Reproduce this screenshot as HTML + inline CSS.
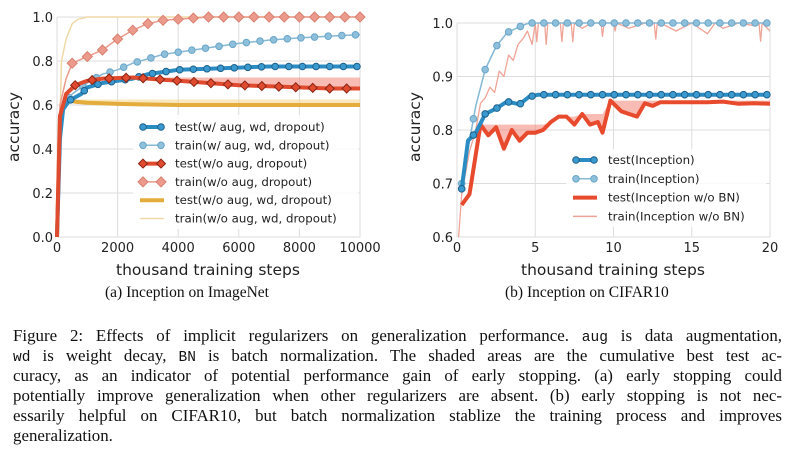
<!DOCTYPE html>
<html><head><meta charset="utf-8">
<style>
body{margin:0;background:#fff;}
#wrap{position:relative;width:792px;height:462px;overflow:hidden;background:#fff;}
svg text{font-family:"DejaVu Sans","Liberation Sans",sans-serif;fill:#222;}
.cap{position:absolute;font-family:"Liberation Serif",serif;color:#111;white-space:nowrap;}
.ln{position:absolute;left:13px;width:769px;font-family:"Liberation Serif",serif;font-size:16.9px;color:#111;text-align:justify;text-align-last:justify;white-space:nowrap;line-height:20px;}
.ln.last{text-align-last:left;}
.mono{font-family:"Liberation Mono",monospace;font-size:14.5px;}
</style></head><body>
<div id="wrap">
<svg id="svg" width="792" height="462"></svg>
<div class="cap" style="left:105px;top:284px;font-size:15.5px;">(a) Inception on ImageNet</div>
<div class="cap" style="left:505px;top:284px;font-size:15.5px;">(b) Inception on CIFAR10</div>
<div>
<div class="ln" style="top:326px;">Figure 2: Effects of implicit regularizers on generalization performance. <span class="mono">aug</span> is data augmentation,</div>
<div class="ln" style="top:346px;"><span class="mono">wd</span> is weight decay, <span class="mono">BN</span> is batch normalization. The shaded areas are the cumulative best test ac-</div>
<div class="ln" style="top:366px;">curacy, as an indicator of potential performance gain of early stopping. (a) early stopping could</div>
<div class="ln" style="top:386px;">potentially improve generalization when other regularizers are absent. (b) early stopping is not nec-</div>
<div class="ln" style="top:406px;">essarily helpful on CIFAR10, but batch normalization stablize the training process and improves</div>
<div class="ln last" style="top:426px;">generalization.</div>
</div>
</div>
<script>
// ---- Left chart data (x in steps) ----
const aTestAugX=[0,100,200,400,800,1000,1500,2000,2500,3000,3500,4000,5000,6000,7000,8000,9000,10000];
const aTestAugY=[0,0.45,0.58,0.62,0.65,0.68,0.70,0.71,0.72,0.74,0.75,0.76,0.765,0.77,0.775,0.775,0.775,0.775];
const aTrainAugX=[0,100,200,500,1000,1500,2000,2500,3000,3500,4000,5000,6000,7000,8000,9000,10000];
const aTrainAugY=[0,0.5,0.6,0.65,0.70,0.74,0.76,0.79,0.81,0.83,0.84,0.86,0.88,0.895,0.905,0.913,0.92];
const aTestNoAugX=[0,100,300,600,1000,1500,2500,3000,3500,4000,5000,6000,7000,8000,9000,10000];
const aTestNoAugY=[0,0.55,0.65,0.69,0.71,0.72,0.725,0.72,0.715,0.71,0.70,0.69,0.685,0.68,0.675,0.675];
const aTrainNoAugX=[0,100,300,500,1000,1500,2000,2500,3000,3500,4000,5000,10000];
const aTrainNoAugY=[0,0.6,0.72,0.79,0.82,0.85,0.90,0.94,0.97,0.985,0.99,1.0,1.0];
const aTestNoRegX=[0,100,300,600,1000,2000,4000,10000];
const aTestNoRegY=[0,0.55,0.625,0.615,0.61,0.605,0.60,0.60];
const aTrainNoRegX=[0,150,300,500,700,1000,10000];
const aTrainNoRegY=[0,0.8,0.9,0.97,0.99,1.0,1.0];
const aXTicks=[0,2000,4000,6000,8000,10000];
const aYTicks=[0,0.2,0.4,0.6,0.8,1.0];
// ---- Right chart data (x in thousand steps) ----
const bTestIncX=[0.3,0.7,1.2,1.8,2.5,3.2,4,4.6,5.2,6,20];
const bTestIncY=[0.69,0.78,0.795,0.83,0.84,0.853,0.848,0.862,0.866,0.866,0.866];
const bTrainIncX=[0.3,1.2,1.8,2.5,3.2,4,4.6,20];
const bTrainIncY=[0.70,0.845,0.913,0.956,0.982,0.993,1.0,1.0];
const bTestNoBNX=[0.3,0.8,1.5,2,2.5,3,3.5,4,4.5,5,5.5,6,6.5,7,7.5,8,8.5,9,9.3,9.8,10.5,11,11.5,12,12.5,13,14,15,16,17,18,19,20];
const bTestNoBNY=[0.66,0.68,0.81,0.79,0.805,0.765,0.80,0.78,0.795,0.795,0.80,0.815,0.825,0.825,0.81,0.83,0.81,0.815,0.795,0.855,0.835,0.83,0.825,0.85,0.845,0.852,0.852,0.852,0.852,0.853,0.849,0.85,0.849];
const bTrainNoBNX=[0.1,0.3,0.8,1.2,1.5,1.8,2.1,2.4,2.7,3,3.3,3.6,3.9,4.2,4.5,4.8,5,5.1,5.2,5.6,5.7,5.8,6.6,6.7,6.8,7.3,7.4,7.5,8,8.6,9.2,9.3,9.4,10,10.1,10.2,11,12,12.6,12.7,12.8,13,14,15,16,16.5,17,18,19,19.3,19.4,19.5,20];
const bTrainNoBNY=[0.60,0.68,0.76,0.80,0.85,0.86,0.88,0.87,0.91,0.90,0.94,0.93,0.96,0.97,0.985,0.96,1.0,0.965,1.0,1.0,0.96,1.0,1.0,0.965,1.0,1.0,0.965,1.0,0.99,1.0,1.0,0.975,1.0,1.0,0.985,1.0,0.99,1.0,1.0,0.97,1.0,1.0,0.985,1.0,0.98,1.0,0.99,1.0,0.995,1.0,0.966,1.0,0.985];
const bXTicks=[0,5,10,15,20];
const bYTicks=[0.6,0.7,0.8,0.9,1.0];

const NS="http://www.w3.org/2000/svg";
const svg=document.getElementById('svg');
function mk(tag,attrs,parent){const e=document.createElementNS(NS,tag);for(const k in attrs)e.setAttribute(k,attrs[k]);(parent||svg).appendChild(e);return e;}
function interp(xs,ys,x){for(let i=1;i<xs.length;i++){if(x<=xs[i]){const t=(x-xs[i-1])/(xs[i]-xs[i-1]);return ys[i-1]+t*(ys[i]-ys[i-1]);}}return ys[ys.length-1];}
function pathD(xs,ys,sx,sy){return xs.map((x,i)=>(i?'L':'M')+sx(x).toFixed(1)+','+sy(ys[i]).toFixed(1)).join(' ');}
function cummax(ys){let m=-1;return ys.map(v=>(m=Math.max(m,v)));}

function axes(g,sx,sy,xt,yt,xFmt,yFmt,x0,x1,y0,y1){
  xt.forEach(v=>{const l=mk('line',{x1:sx(v),x2:sx(v),y1:y0,y2:y1,stroke:'#ddd','stroke-width':1},g);
    
    const t=mk('text',{x:sx(v),y:y0+15,'text-anchor':'middle','font-size':13},g);t.textContent=xFmt(v);
    });
  yt.forEach(v=>{const l=mk('line',{x1:x0,x2:x1,y1:sy(v),y2:sy(v),stroke:'#ddd','stroke-width':1},g);
    
    const t=mk('text',{x:x0-4,y:sy(v)+5,'text-anchor':'end','font-size':13},g);t.textContent=yFmt(v);
    });
}
function line(g,xs,ys,sx,sy,color,w,name,op){const p=mk('path',{d:pathD(xs,ys,sx,sy),fill:'none',stroke:color,'stroke-width':w,'stroke-linejoin':'round',opacity:op||1},g);
  return p;}
function markers(g,xs,ys,sx,sy,start,step,end,shape,fill,stroke,r,name){
  for(let x=start;x<=end+1e-9;x+=step){const y=interp(xs,ys,x);const cx=sx(x),cy=sy(y);let m;
    if(shape==='c')m=mk('circle',{cx:cx,cy:cy,r:r,fill:fill,stroke:stroke,'stroke-width':1},g);
    else m=mk('path',{d:`M${cx},${cy-r} L${cx+r},${cy} L${cx},${cy+r} L${cx-r},${cy} Z`,fill:fill,stroke:stroke,'stroke-width':1},g);
    }
}
function band(g,xs,ys,sx,sy,color,name){const cm=cummax(ys);
  let d='M'+xs.map((x,i)=>sx(x).toFixed(1)+','+sy(cm[i]).toFixed(1)).join(' L');
  for(let i=xs.length-1;i>=0;i--)d+=' L'+sx(xs[i]).toFixed(1)+','+sy(ys[i]).toFixed(1);
  const p=mk('path',{d:d+'Z',fill:color,opacity:0.5,stroke:'none'},g);
  }
function legend(g,x,y,dy,items){items.forEach((it,i)=>{const yy=y+i*dy;const e=mk('g',{},g);
  
  mk('line',{x1:x,x2:x+24,y1:yy,y2:yy,stroke:it.c,'stroke-width':it.w,opacity:it.op||1},e);
  if(it.m){[x+3,x+21].forEach(cx=>{if(it.m==='c')mk('circle',{cx:cx,cy:yy,r:it.r,fill:it.f,stroke:it.s},e);
    else mk('path',{d:`M${cx},${yy-it.r} L${cx+it.r},${yy} L${cx},${yy+it.r} L${cx-it.r},${yy} Z`,fill:it.f,stroke:it.s},e);});}
  const t=mk('text',{x:x+35,y:yy+4,'font-size':11.8},e);t.textContent=it.t;});}

// ---- Left chart ----
(function(){
  const x0=57,x1=360,y0=237,y1=17;
  const sx=v=>x0+(v/10000)*(x1-x0), sy=v=>y0-(v/1.0)*(y0-y1);
  const g=mk('g',{});
  axes(g,sx,sy,aXTicks,aYTicks,v=>String(v),v=>v.toFixed(1),x0,x1,y0,y1);
  band(g,aTestNoAugX,aTestNoAugY,sx,sy,'#f47a6a','shaded-best-test-no-aug');
  band(g,aTestNoRegX,aTestNoRegY,sx,sy,'#f3cf7e','shaded-best-test-no-reg');
  line(g,aTrainNoRegX,aTrainNoRegY,sx,sy,'#efd9a6',1.5,'line-train-no-reg');
  line(g,aTestNoRegX,aTestNoRegY,sx,sy,'#e3ac3c',4,'line-test-no-reg');
  line(g,aTrainNoAugX,aTrainNoAugY,sx,sy,'#eb9a8c',1.5,'line-train-no-aug');
  markers(g,aTrainNoAugX,aTrainNoAugY,sx,sy,500,500,10000,'d','#eb9a8c','#d98070',5,'marker-train-no-aug');
  line(g,aTrainAugX,aTrainAugY,sx,sy,'#85b8d4',1.5,'line-train-aug');
  markers(g,aTrainAugX,aTrainAugY,sx,sy,400,450,10000,'c','#8ec0dc','#6aa5c8',3.3,'marker-train-aug');
  line(g,aTestAugX,aTestAugY,sx,sy,'#2b8cc4',4,'line-test-aug');
  markers(g,aTestAugX,aTestAugY,sx,sy,450,450,10000,'c','#3a9ad0','#1d5f8a',3.3,'marker-test-aug');
  line(g,aTestNoAugX,aTestNoAugY,sx,sy,'#e04a2e',4,'line-test-no-aug');
  markers(g,aTestNoAugX,aTestNoAugY,sx,sy,600,560,10000,'d','#e04a2e','#8a2414',4.5,'marker-test-no-aug');
  const xt=mk('text',{x:208,y:275,'text-anchor':'middle','font-size':15.5},g);xt.textContent='thousand training steps';
  
  const yt=mk('text',{x:0,y:0,'text-anchor':'middle','font-size':15.5,transform:'translate(19,127) rotate(-90)'},g);yt.textContent='accuracy';
  
  const lg=mk('g',{},g);
  mk('rect',{x:133,y:115,width:225,height:114,fill:'#fff',opacity:0.85},lg);
  legend(lg,140,127,18.3,[
    {c:'#2b8cc4',w:4,m:'c',r:3.3,f:'#3a9ad0',s:'#1d5f8a',t:'test(w/ aug, wd, dropout)'},
    {c:'#85b8d4',w:1.5,m:'c',r:3.3,f:'#8ec0dc',s:'#6aa5c8',t:'train(w/ aug, wd, dropout)'},
    {c:'#e04a2e',w:4,m:'d',r:4.5,f:'#e04a2e',s:'#8a2414',t:'test(w/o aug, dropout)'},
    {c:'#eb9a8c',w:1.5,m:'d',r:5,f:'#eb9a8c',s:'#d98070',t:'train(w/o aug, dropout)'},
    {c:'#e3ac3c',w:4,t:'test(w/o aug, wd, dropout)'},
    {c:'#efd9a6',w:1.5,t:'train(w/o aug, wd, dropout)'}]);
})();

// ---- Right chart ----
(function(){
  const x0=457,x1=770,y0=237,y1=23;
  const sx=v=>x0+(v/20)*(x1-x0), sy=v=>y0-((v-0.6)/0.4)*(y0-y1);
  const g=mk('g',{});
  axes(g,sx,sy,bXTicks,bYTicks,v=>String(v),v=>v.toFixed(1),x0,x1,y0,y1);
  band(g,bTestNoBNX,bTestNoBNY,sx,sy,'#f47a6a','shaded-best-test-no-bn');
  line(g,bTrainNoBNX,bTrainNoBNY,sx,sy,'#f0a397',1.3,'line-train-no-bn');
  line(g,bTrainIncX,bTrainIncY,sx,sy,'#85b8d4',1.5,'line-train-inception');
  markers(g,bTrainIncX,bTrainIncY,sx,sy,0.3,0.75,20,'c','#8ec0dc','#6aa5c8',3.3,'marker-train-inception');
  line(g,bTestNoBNX,bTestNoBNY,sx,sy,'#e84a2e',4,'line-test-no-bn');
  line(g,bTestIncX,bTestIncY,sx,sy,'#2b8cc4',4,'line-test-inception');
  markers(g,bTestIncX,bTestIncY,sx,sy,0.3,0.75,20,'c','#3a9ad0','#1d5f8a',3.3,'marker-test-inception');
  const xt=mk('text',{x:613,y:275,'text-anchor':'middle','font-size':15.5},g);xt.textContent='thousand training steps';
  
  const yt=mk('text',{x:0,y:0,'text-anchor':'middle','font-size':15.5,transform:'translate(420,127) rotate(-90)'},g);yt.textContent='accuracy';
  
  const lg=mk('g',{},g);
  mk('rect',{x:566,y:149,width:200,height:78,fill:'#fff',opacity:0.85},lg);
  legend(lg,573,160,18.8,[
    {c:'#2b8cc4',w:4,m:'c',r:3.3,f:'#3a9ad0',s:'#1d5f8a',t:'test(Inception)'},
    {c:'#85b8d4',w:1.5,m:'c',r:3.3,f:'#8ec0dc',s:'#6aa5c8',t:'train(Inception)'},
    {c:'#e84a2e',w:4,t:'test(Inception w/o BN)'},
    {c:'#f0a397',w:1.5,t:'train(Inception w/o BN)'}]);
})();
</script>
</body></html>
